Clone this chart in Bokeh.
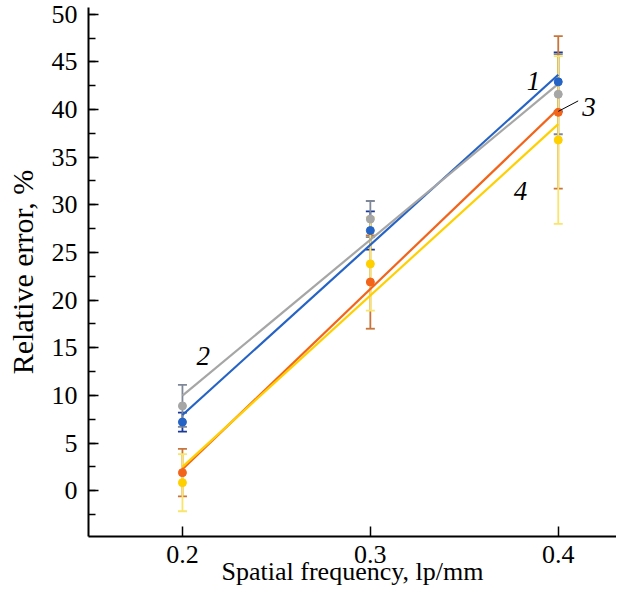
import numpy as np
from bokeh.plotting import figure
from bokeh.models import ColumnDataSource, Whisker, TeeHead, FixedTicker, SingleIntervalTicker, Range1d
from bokeh.core.properties import value
from bokeh.embed import file_html
from bokeh.resources import INLINE

freq = [0.2, 0.3, 0.4]
s1 = [7.2, 27.3, 42.9]
e1 = [1.0, 2.0, 3.1]
s2 = [8.9, 28.5, 41.6]
e2 = [2.2, 1.9, 4.2]
s3 = [1.9, 21.9, 39.7]
e3 = [2.5, 4.9, 8.0]
s4 = [0.85, 23.8, 36.8]
e4 = [3.0, 4.9, 8.8]

series = [
    (s1, e1, "#2563c4", "#1a3a9a"),
    (s2, e2, "#a6a6a6", "#7f8899"),
    (s3, e3, "#f26419", "#c8743a"),
    (s4, e4, "#ffd000", "#f9e56a"),
]

labels = ["1", "2", "3", "4"]
label_x = [0.3868, 0.2111, 0.4164, 0.3799]
label_y = [43.0, 14.1, 40.3, 31.4]

X_TITLE = "Spatial frequency, lp/mm"
Y_TITLE = "Relative error, %"

FONT = "Liberation Serif"
X0, X1 = 0.15, 0.431

p = figure(width=616, height=588, output_backend="svg", toolbar_location=None,
           x_range=Range1d(X0, X1), y_range=Range1d(-4.8, 50.7),
           min_border_left=88, min_border_right=0, min_border_top=7, min_border_bottom=20)
p.grid.visible = False
p.outline_line_color = None
p.background_fill_color = "white"

x_fit = np.array([freq[0], freq[-1]])
for ys, es, col, ecol in series:
    k, b = np.polyfit(freq, ys, 1)
    p.line(x_fit, k * x_fit + b, line_color=col, line_width=2.2)

for ys, es, col, ecol in series:
    src = ColumnDataSource(dict(x=freq, y=ys,
                                lo=[y - e for y, e in zip(ys, es)],
                                hi=[y + e for y, e in zip(ys, es)]))
    w = Whisker(source=src, base="x", lower="lo", upper="hi",
                line_color=ecol, line_width=1.8,
                upper_head=TeeHead(size=9, line_color=ecol, line_width=1.8),
                lower_head=TeeHead(size=9, line_color=ecol, line_width=1.8))
    p.add_layout(w)

for ys, es, col, ecol in series:
    p.scatter(freq, ys, size=8, fill_color=col, line_color=col)

p.line([0.4, 0.4106], [39.8, 40.9], line_color="black", line_width=1)

p.text(x=label_x, y=label_y, text=labels, text_font=value(FONT), text_font_style="italic",
       text_font_size="27px", text_align="center", text_baseline="middle", text_color="black")

for ax in (p.xaxis[0], p.yaxis[0]):
    ax.axis_line_width = 2
    ax.axis_line_color = "black"
    ax.major_tick_in = 10
    ax.major_tick_out = 0
    ax.minor_tick_in = 7
    ax.minor_tick_out = 0
    ax.major_tick_line_width = 1.5
    ax.minor_tick_line_width = 1.5
    ax.major_label_text_font = FONT
    ax.major_label_text_font_size = "26px"
    ax.major_label_text_color = "black"
    ax.axis_label_text_font = FONT
    ax.axis_label_text_font_style = "normal"
    ax.axis_label_text_color = "black"

p.xaxis.axis_label_text_font_size = "26px"
p.yaxis.axis_label_text_font_size = "30px"
p.xaxis.ticker = FixedTicker(ticks=freq, minor_ticks=[])
p.yaxis.ticker = SingleIntervalTicker(interval=5, num_minor_ticks=2)
p.xaxis.axis_label = X_TITLE
p.yaxis.axis_label = Y_TITLE
p.xaxis.major_label_standoff = 9
p.yaxis.major_label_standoff = 11
p.xaxis.axis_label_standoff = -9
p.yaxis.axis_label_standoff = 10

open("out.html", "w").write(file_html(p, INLINE))
